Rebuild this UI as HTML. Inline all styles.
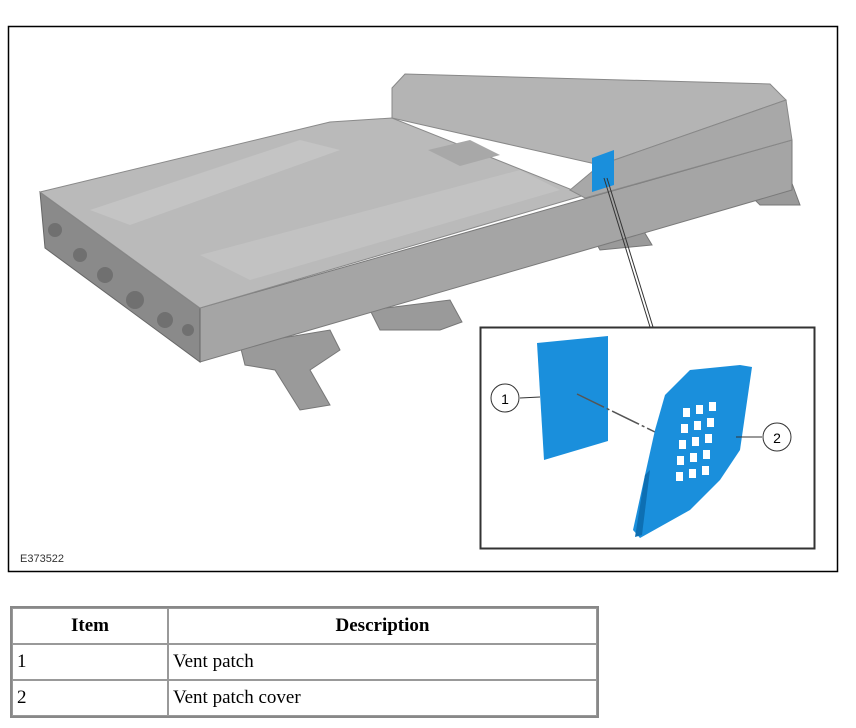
<!DOCTYPE html>
<html><head><style>
body{margin:0;background:#fff;width:856px;height:728px;position:relative;overflow:hidden;font-family:"Liberation Serif",serif}
svg{position:absolute;left:0;top:0}
table{position:absolute;left:10px;top:606px;width:589px;border-collapse:separate;border-spacing:0;border:2px solid #888;font-size:19px}
td,th{border:1px solid #999;height:34px;padding:0 4px;text-align:left}
th{text-align:center;font-weight:bold}
</style></head><body>
<svg width="856" height="600" viewBox="0 0 856 600">
<rect x="8.5" y="26.5" width="829" height="545" fill="#fff" stroke="#000" stroke-width="1.5"/>
<g fill="#9a9a9a" stroke="#777">
<polygon points="240,345 330,330 340,350 310,370 330,405 300,410 275,370 245,365"/>
<polygon points="370,310 450,300 462,322 440,330 380,330"/>
<polygon points="590,232 640,225 652,245 600,250"/>
<polygon points="740,185 790,178 800,205 760,205"/>
</g>
<polygon points="200,308 792,140 792,190 200,362" fill="#a5a5a5" stroke="#7a7a7a"/>
<polygon points="40,192 200,308 200,362 45,248" fill="#8a8a8a" stroke="#666"/>
<g fill="#707070"><circle cx="55" cy="230" r="7"/><circle cx="80" cy="255" r="7"/><circle cx="105" cy="275" r="8"/><circle cx="135" cy="300" r="9"/><circle cx="165" cy="320" r="8"/><circle cx="188" cy="330" r="6"/></g>
<polygon points="40,192 330,122 392,118 585,195 200,308" fill="#bababa" stroke="#8a8a8a"/>
<polygon points="90,210 300,140 340,150 130,225" fill="#c4c4c4"/>
<polygon points="200,255 520,170 560,190 250,280" fill="#c2c2c2"/>
<polygon points="392,88 405,74 770,84 786,100 600,165 392,118" fill="#b4b4b4" stroke="#888"/>
<polygon points="600,165 786,100 792,140 585,198 570,190" fill="#a8a8a8" stroke="#888"/>
<polygon points="428,150 470,140 500,155 460,166" fill="#a8a8a8"/>
<polygon points="592,158 614,150 614,185 592,192" fill="#1a8fdc"/>
<line x1="604" y1="178" x2="650" y2="327" stroke="#333" stroke-width="1"/>
<line x1="607" y1="178" x2="653" y2="327" stroke="#333" stroke-width="1"/>
<text x="20" y="562" font-family="Liberation Sans,sans-serif" font-size="11" fill="#333">E373522</text>
<rect x="480.5" y="327.5" width="334" height="221" fill="#fff" stroke="#333" stroke-width="2"/>
<polygon points="537,343 608,336 608,441 544,460" fill="#1a8fdc"/>
<line x1="577" y1="394" x2="655" y2="432" stroke="#555" stroke-width="1.5" stroke-dasharray="30,3,3,3"/>
<polygon points="690,370 740,365 752,367 740,450 720,480 690,510 640,538 633,530 645,475 655,430 665,395" fill="#1a8fdc"/>
<polygon points="645,475 650,470 642,535 635,537" fill="#0d6fb3"/>
<g fill="#fff">
<rect x="683" y="408" width="7" height="9"/><rect x="696" y="405" width="7" height="9"/><rect x="709" y="402" width="7" height="9"/>
<rect x="681" y="424" width="7" height="9"/><rect x="694" y="421" width="7" height="9"/><rect x="707" y="418" width="7" height="9"/>
<rect x="679" y="440" width="7" height="9"/><rect x="692" y="437" width="7" height="9"/><rect x="705" y="434" width="7" height="9"/>
<rect x="677" y="456" width="7" height="9"/><rect x="690" y="453" width="7" height="9"/><rect x="703" y="450" width="7" height="9"/>
<rect x="676" y="472" width="7" height="9"/><rect x="689" y="469" width="7" height="9"/><rect x="702" y="466" width="7" height="9"/>
</g>
<line x1="520" y1="398" x2="540" y2="397" stroke="#333"/>
<circle cx="505" cy="398" r="14" fill="#fff" stroke="#333"/>
<text x="505" y="404" text-anchor="middle" font-family="Liberation Sans,sans-serif" font-size="14">1</text>
<line x1="736" y1="437" x2="762" y2="437" stroke="#333"/>
<circle cx="777" cy="437" r="14" fill="#fff" stroke="#333"/>
<text x="777" y="443" text-anchor="middle" font-family="Liberation Sans,sans-serif" font-size="14">2</text>
</svg>
<table>
<tr><th style="width:146px">Item</th><th>Description</th></tr>
<tr><td>1</td><td>Vent patch</td></tr>
<tr><td>2</td><td>Vent patch cover</td></tr>
</table>
</body></html>
